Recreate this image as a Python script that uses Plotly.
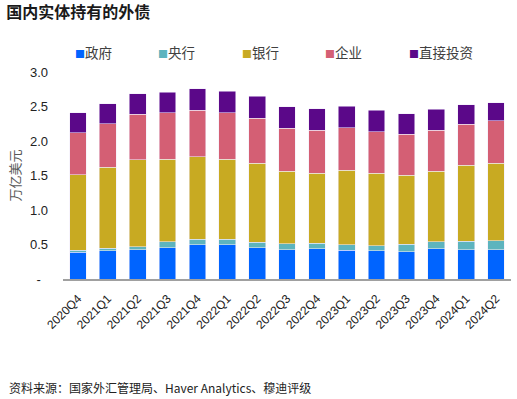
import plotly.graph_objects as go

quarters = ["2020Q4", "2021Q1", "2021Q2", "2021Q3", "2021Q4", "2022Q1", "2022Q2",
            "2022Q3", "2022Q4", "2023Q1", "2023Q2", "2023Q3", "2023Q4", "2024Q1", "2024Q2"]

gov = [0.39, 0.41, 0.425, 0.454, 0.498, 0.498, 0.454, 0.425, 0.44, 0.415, 0.406, 0.396, 0.44, 0.425, 0.425]
central_bank = [0.03, 0.035, 0.04, 0.087, 0.077, 0.077, 0.082, 0.087, 0.077, 0.083, 0.077, 0.111, 0.101, 0.121, 0.126]
banks = [1.09, 1.175, 1.26, 1.193, 1.198, 1.164, 1.145, 1.053, 1.019, 1.077, 1.053, 0.995, 1.019, 1.101, 1.13]
corporates = [0.61, 0.633, 0.666, 0.672, 0.676, 0.667, 0.648, 0.619, 0.619, 0.618, 0.599, 0.599, 0.599, 0.595, 0.609]
fdi = [0.29, 0.285, 0.295, 0.30, 0.309, 0.314, 0.318, 0.309, 0.309, 0.314, 0.314, 0.295, 0.30, 0.285, 0.266]

series_names = ["政府", "央行", "银行", "企业", "直接投资"]
series_values = [gov, central_bank, banks, corporates, fdi]
series_colors = ["#0064FF", "#5DB4BE", "#C8AA22", "#D45F74", "#5B0889"]

ytick_vals = [0, 0.5, 1.0, 1.5, 2.0, 2.5, 3.0]
ytick_text = ["-\u00a0\u00a0", "0.5", "1.0", "1.5", "2.0", "2.5", "3.0"]

CJK = "Noto Sans CJK SC"
LATIN = "Liberation Sans, Arial, sans-serif"

fig = go.Figure()
for name, vals, col in zip(series_names, series_values, series_colors):
    fig.add_trace(go.Bar(
        x=quarters, y=vals, name=name,
        marker=dict(color=col, line=dict(color="rgba(240,235,250,0.9)", width=0.6)),
        showlegend=False,
    ))

# legend drawn as text items
legend_x = [0.022, 0.2084, 0.395, 0.581, 0.768]
for name, col, lx in zip(series_names, series_colors, legend_x):
    fig.add_annotation(
        xref="paper", yref="paper", x=lx, y=1.095, xanchor="left", yanchor="middle",
        text=f"<span style='color:{col};font-size:10px'>■</span>{name}",
        showarrow=False, font=dict(family=CJK, size=13.5, color="#404040"),
    )

fig.update_layout(
    barmode="stack",
    bargap=0.44,
    width=517, height=399,
    margin=dict(l=63, r=6, t=72, b=120),
    paper_bgcolor="white", plot_bgcolor="white",
    font=dict(family=LATIN, size=13, color="#222222"),
    title=dict(text="<b>国内实体持有的外债</b>", x=0.012, xanchor="left", y=0.97, yanchor="middle",
               font=dict(family=CJK, size=16, color="#1a1a1a")),
    xaxis=dict(tickangle=-45, showline=True, linecolor="#A0A0A0", linewidth=2,
               ticks="", showgrid=False, ticklabelstandoff=6,
               tickfont=dict(family=LATIN, size=12, color="#222222")),
    yaxis=dict(range=[0, 3.0], tickvals=ytick_vals, ticktext=ytick_text, showgrid=False,
               zeroline=False, showline=False, ticks="", ticklabelstandoff=14,
               tickfont=dict(family=LATIN, size=13, color="#222222"),
               title=dict(text="万亿美元", font=dict(family=CJK, size=13, color="#595959"), standoff=6)),
)

fig.add_annotation(
    xref="paper", yref="paper", x=-0.125, y=-0.522, xanchor="left", yanchor="middle",
    text="资料来源：国家外汇管理局、Haver Analytics、穆迪评级", showarrow=False,
    font=dict(family=CJK, size=12, color="#222222"),
)

fig.write_html("out.html", config={"displayModeBar": False},
               post_script="document.body.style.margin='0';document.body.style.overflow='hidden';")
